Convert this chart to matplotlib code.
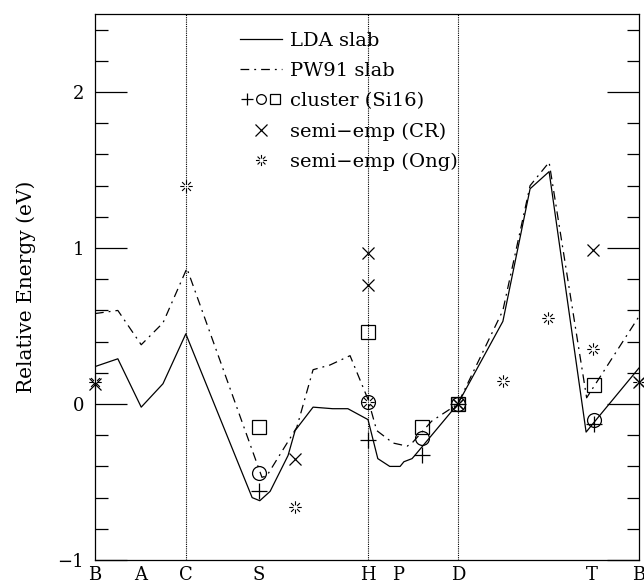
import matplotlib
matplotlib.use("Agg")
import numpy as np
import matplotlib.pyplot as plt
from matplotlib.lines import Line2D
from matplotlib.path import Path
from matplotlib.legend_handler import HandlerTuple

# path positions of the symmetry points (fraction of total path)
tick_pos = [0.0, 0.083, 0.167, 0.301, 0.502, 0.557, 0.667, 0.914, 1.0]
tick_lab = ["B", "A", "C", "S", "H", "P", "D", "T", "B"]
vlines = [0.167, 0.502, 0.667]

# LDA slab
lda_x = [0, 0.042, 0.085, 0.125, 0.167, 0.289, 0.303, 0.322, 0.355, 0.368, 0.401,
         0.437, 0.465, 0.502, 0.52, 0.542, 0.561, 0.568, 0.583, 0.588, 0.667,
         0.75, 0.80, 0.835, 0.903, 0.917, 1.0]
lda_y = [0.24, 0.29, -0.02, 0.13, 0.45, -0.60, -0.62, -0.56, -0.33, -0.17, -0.02,
         -0.03, -0.03, -0.10, -0.35, -0.40, -0.40, -0.37, -0.35, -0.33, 0.0,
         0.53, 1.38, 1.49, -0.18, -0.12, 0.23]

# PW91 slab
pw_x = [0, 0.042, 0.085, 0.125, 0.169, 0.307, 0.316, 0.371, 0.401, 0.432, 0.469,
        0.502, 0.518, 0.548, 0.574, 0.583, 0.619, 0.667, 0.75, 0.80, 0.835, 0.904, 1.0]
pw_y = [0.58, 0.60, 0.38, 0.52, 0.87, -0.47, -0.46, -0.15, 0.22, 0.25, 0.31,
        0.03, -0.17, -0.25, -0.27, -0.25, -0.11, 0.0, 0.60, 1.40, 1.55, 0.04, 0.56]

# cluster (Si16)
cl_x = [0.301, 0.502, 0.601, 0.667, 0.917]
cl_plus = [-0.56, -0.23, -0.33, 0.0, -0.13]
cl_circ = [-0.44, 0.01, -0.22, 0.0, -0.10]
cl_sq = [-0.15, 0.46, -0.15, 0.0, 0.12]

# semi-empirical (CR)
cr_x = [0.0, 0.368, 0.502, 0.502, 0.667, 0.915, 1.0]
cr_y = [0.13, -0.35, 0.97, 0.76, 0.0, 0.99, 0.14]

# semi-empirical (Ong)
ong_x = [0.0, 0.167, 0.368, 0.502, 0.667, 0.75, 0.833, 0.915, 1.0]
ong_y = [0.14, 1.40, -0.66, 0.01, 0.0, 0.15, 0.55, 0.35, 0.14]

# hollow-centre asterisk (8 short rays) for the Ong points
verts, codes = [], []
for a in np.arange(8) * np.pi / 4:
    verts += [(0.35 * np.cos(a), 0.35 * np.sin(a)), (np.cos(a), np.sin(a))]
    codes += [Path.MOVETO, Path.LINETO]
star = Path(verts, codes)

plt.rcParams["font.family"] = ["DejaVu Serif"]
plt.rcParams["font.size"] = 13

fig = plt.figure(figsize=(6.44, 5.87), dpi=100)
ax = fig.add_axes([0.1475, 0.046, 0.8445, 0.930])

for v in vlines:
    ax.axvline(v, color="k", lw=0.8, ls=(0, (1, 1)))

dd = (0, (7, 4, 1.5, 4))
ax.plot(lda_x, lda_y, color="k", lw=0.9)
ax.plot(pw_x, pw_y, color="k", lw=0.9, ls=dd)

mk = dict(ls="none", color="k", mfc="none", mew=0.9)
ax.plot(cl_x, cl_plus, marker="+", ms=12, clip_on=False, **mk)
ax.plot(cl_x, cl_circ, marker="o", ms=10, clip_on=False, **mk)
ax.plot(cl_x, cl_sq, marker="s", ms=10, clip_on=False, **mk)
ax.plot(cr_x, cr_y, marker="x", ms=9, clip_on=False, **mk)
ax.plot(ong_x, ong_y, marker=star, ms=9, clip_on=False, ls="none", color="k", mew=0.8)

ax.set_xlim(0, 1)
ax.set_ylim(-1, 2.5)
ax.set_xticks(tick_pos)
ax.set_xticklabels(tick_lab)
ax.tick_params(axis="x", length=0, pad=4)
ax.set_yticks([-1, 0, 1, 2])
ax.set_yticklabels(["\u22121", "0", "1", "2"])
ax.set_yticks([v / 10 for v in range(-8, 25, 2) if v % 10 != 0], minor=True)
ax.tick_params(axis="y", which="major", direction="in", length=23, width=0.9,
               right=True, pad=8)
ax.tick_params(axis="y", which="minor", direction="in", length=9, width=0.9,
               right=True)
ax.set_ylabel("Relative Energy (eV)", labelpad=15, fontsize=14.5)
for s in ax.spines.values():
    s.set_linewidth(0.9)

handles = [
    Line2D([], [], color="k", lw=0.9),
    Line2D([], [], color="k", lw=0.9, ls=dd),
    (Line2D([], [], marker="+", ms=9, **mk),
     Line2D([], [], marker="o", ms=7, **mk),
     Line2D([], [], marker="s", ms=7, **mk)),
    Line2D([], [], marker="x", ms=8, ls="none", color="k", mew=0.9),
    Line2D([], [], marker=star, ms=8, ls="none", color="k", mew=0.8),
]
labels = ["LDA slab", "PW91 slab", "cluster (Si16)", "semi\u2212emp (CR)",
          "semi\u2212emp (Ong)"]
ax.legend(handles, labels, loc="upper left", bbox_to_anchor=(0.266, 0.968),
          frameon=False, borderpad=0, borderaxespad=0, handlelength=2.2,
          handletextpad=0.4, labelspacing=0.63, fontsize=14,
          handler_map={tuple: HandlerTuple(ndivide=None, pad=0)})

fig.savefig("out.png", dpi=100)
